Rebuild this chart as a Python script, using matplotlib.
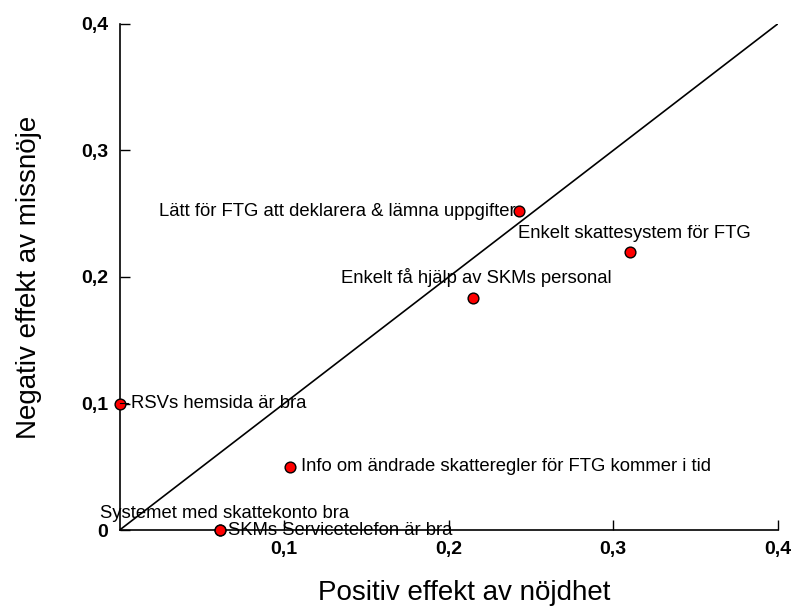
import matplotlib
matplotlib.use("Agg")
import matplotlib.pyplot as plt

plt.rcParams['font.family'] = ['Liberation Sans', 'DejaVu Sans']

labels = [
    "Lätt för FTG att deklarera & lämna uppgifter",
    "Enkelt skattesystem för FTG",
    "Enkelt få hjälp av SKMs personal",
    "RSVs hemsida är bra",
    "Info om ändrade skatteregler för FTG kommer i tid",
    "Systemet med skattekonto bra",
    "SKMs Servicetelefon är bra",
]
pos_effect = [0.243, 0.310, 0.2145, 0.0005, 0.1035, 0.061, 0.061]
neg_effect = [0.252, 0.220, 0.183, 0.100, 0.050, 0.000, 0.000]
# label placement: (dx, dy in points, ha, va)
placements = [
    (-3, 0, 'right', 'center'),
    (3, 7, 'center', 'bottom'),
    (3, 8, 'center', 'bottom'),
    (8, 0, 'left', 'center'),
    (8, 0, 'left', 'center'),
    (3, 6, 'center', 'bottom'),
    (6, 0, 'left', 'center'),
]
ticks = [0, 0.1, 0.2, 0.3, 0.4]
tick_labels = ["0", "0,1", "0,2", "0,3", "0,4"]

fig = plt.figure(figsize=(7.97, 6.10), dpi=100)
ax = fig.add_axes([0.15, 0.131, 0.826, 0.83])
ax.set_xlim(0, 0.4)
ax.set_ylim(0, 0.4)

for s in ['top', 'right']:
    ax.spines[s].set_visible(False)
for s in ['left', 'bottom']:
    ax.spines[s].set_linewidth(1.2)
    ax.spines[s].set_color('black')

ax.plot([0, 0.4], [0, 0.4], color='black', lw=1.2, zorder=2)

ax.scatter(pos_effect, neg_effect, s=60, c='#ff0000', edgecolors='black',
           linewidths=1.0, zorder=5, clip_on=False)

for lab, x, y, (dx, dy, ha, va) in zip(labels, pos_effect, neg_effect, placements):
    if lab.startswith("RSVs"):
        ax.annotate(lab, (x, y), xytext=(dx, dy), textcoords='offset points',
                    ha=ha, va=va, fontsize=13.3, zorder=6,
                    arrowprops=dict(arrowstyle='-', color='black', lw=0.8,
                                    shrinkA=0, shrinkB=0))
    else:
        ax.annotate(lab, (x, y), xytext=(dx, dy), textcoords='offset points',
                    ha=ha, va=va, fontsize=13.3, zorder=6)

ax.set_xticks(ticks[1:])
ax.set_xticklabels(tick_labels[1:], fontweight='bold', fontsize=14)
ax.set_yticks(ticks)
ax.set_yticklabels(tick_labels, fontweight='bold', fontsize=14)
ax.tick_params(axis='x', direction='in', length=7, width=1, pad=8)
ax.tick_params(axis='y', direction='in', length=7, width=1, pad=8)

ax.set_xlabel("Positiv effekt av nöjdhet", fontsize=20, labelpad=16)
ax.xaxis.label.set_x(0.523)
ax.set_ylabel("Negativ effekt av missnöje", fontsize=20, labelpad=28)

fig.savefig("out.png", dpi=100)
